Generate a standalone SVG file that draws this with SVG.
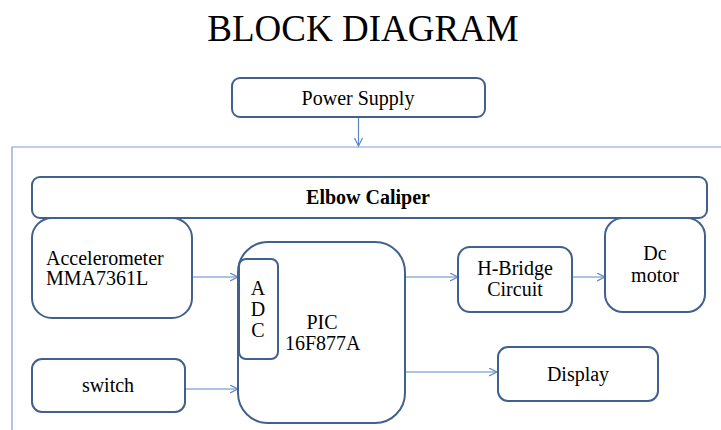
<svg xmlns="http://www.w3.org/2000/svg" width="721" height="430" viewBox="0 0 721 430">
<defs>
<style>
.box{fill:#fff;stroke:#41608e;stroke-width:2}
.c{stroke:#5b87c8;stroke-width:1.2;fill:none}
.frame{stroke:#7d9ed0;stroke-width:1.2;fill:none}
</style>
<marker id="ah" markerWidth="10" markerHeight="10" refX="8" refY="4" orient="auto" markerUnits="userSpaceOnUse">
<path d="M0,0 L8,4 L0,8" fill="none" stroke="#5b87c8" stroke-width="1.2"/>
</marker>
</defs>
<rect width="721" height="430" fill="#fff"/>
<text x="363" y="41" font-family="Liberation Serif, serif" font-size="37" text-anchor="middle">BLOCK DIAGRAM</text>
<path class="frame" d="M721,147 H12 V430"/>
<g id="connectors">
<line class="c" x1="358.5" y1="117" x2="358.5" y2="146" marker-end="url(#ah)"/>
<line class="c" x1="192" y1="277" x2="238" y2="277" marker-end="url(#ah)"/>
<line class="c" x1="185" y1="389" x2="238" y2="389" marker-end="url(#ah)"/>
<line class="c" x1="405" y1="277" x2="458" y2="277" marker-end="url(#ah)"/>
<line class="c" x1="572" y1="277" x2="605" y2="277" marker-end="url(#ah)"/>
<line class="c" x1="405" y1="372" x2="497" y2="372" marker-end="url(#ah)"/>
</g>
<g id="power">
<rect class="box" x="232" y="78" width="253" height="39" rx="8"/>
<text x="358" y="105" font-family="Liberation Serif, serif" font-size="20" text-anchor="middle">Power Supply</text>
</g>
<g id="elbow">
<rect class="box" x="32" y="177" width="675" height="41" rx="8"/>
<text x="368" y="204" font-family="Liberation Serif, serif" font-size="20" font-weight="bold" text-anchor="middle">Elbow Caliper</text>
</g>
<g id="accel">
<rect class="box" x="32" y="218" width="160" height="100" rx="20"/>
<text x="46" y="265" font-family="Liberation Serif, serif" font-size="20">Accelerometer</text>
<text x="46" y="285" font-family="Liberation Serif, serif" font-size="20">MMA7361L</text>
</g>
<g id="switch">
<rect class="box" x="32" y="359" width="153" height="53" rx="10"/>
<text x="108" y="392" font-family="Liberation Serif, serif" font-size="20" text-anchor="middle">switch</text>
</g>
<g id="pic">
<rect class="box" x="238" y="242" width="167" height="181" rx="30"/>
<text x="322" y="329" font-family="Liberation Serif, serif" font-size="20" text-anchor="middle">PIC</text>
<text x="285" y="350" font-family="Liberation Serif, serif" font-size="20">16F877A</text>
</g>
<g id="adc">
<rect class="box" x="239" y="259" width="39" height="100" rx="7"/>
<text x="258" y="295" font-family="Liberation Serif, serif" font-size="20" text-anchor="middle">A</text>
<text x="258" y="316" font-family="Liberation Serif, serif" font-size="20" text-anchor="middle">D</text>
<text x="258" y="337" font-family="Liberation Serif, serif" font-size="20" text-anchor="middle">C</text>
</g>
<g id="hbridge">
<rect class="box" x="458" y="247" width="114" height="65" rx="12"/>
<text x="515" y="275" font-family="Liberation Serif, serif" font-size="20" text-anchor="middle">H-Bridge</text>
<text x="515" y="296" font-family="Liberation Serif, serif" font-size="20" text-anchor="middle">Circuit</text>
</g>
<g id="dcmotor">
<rect class="box" x="605" y="218" width="100" height="94" rx="18"/>
<text x="655" y="260" font-family="Liberation Serif, serif" font-size="20" text-anchor="middle">Dc</text>
<text x="655" y="282" font-family="Liberation Serif, serif" font-size="20" text-anchor="middle">motor</text>
</g>
<g id="display">
<rect class="box" x="498" y="347" width="160" height="54" rx="10"/>
<text x="578" y="381" font-family="Liberation Serif, serif" font-size="20" text-anchor="middle">Display</text>
</g>
</svg>
